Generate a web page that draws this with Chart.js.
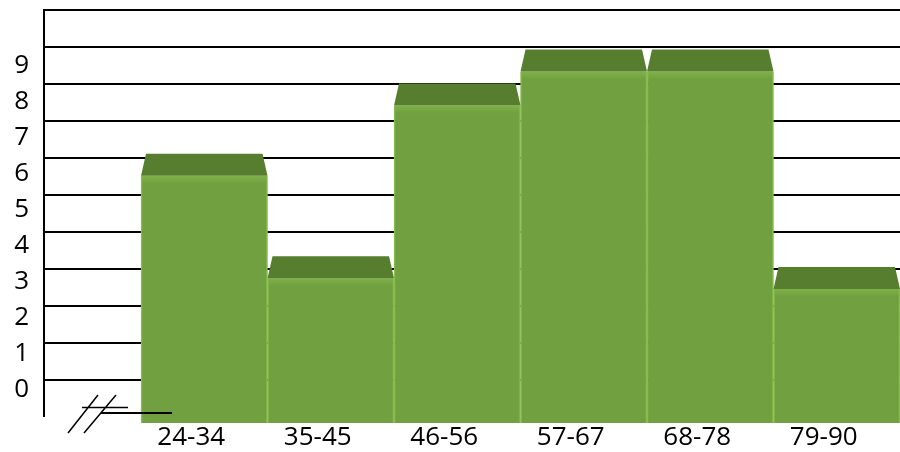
<!DOCTYPE html>
<html>
<head>
<meta charset="utf-8">
<script src="https://cdn.jsdelivr.net/npm/chart.js@4/dist/chart.umd.min.js"></script>
<style>
  html, body { margin: 0; padding: 0; background: #ffffff; }
  #wrap { width: 900px; height: 452px; }
</style>
</head>
<body>
<div id="wrap"><canvas id="chart" width="900" height="452"></canvas></div>
<script>
// Age groups and how many people fall in each one
const ageGroups = ['24-34', '35-45', '46-56', '57-67', '68-78', '79-90'];
const counts = [5.95, 3.1, 7.9, 8.85, 8.85, 2.8];
const groupPositions = [0, 1, 2, 3, 4, 5];

// Count labels printed on the left, and the horizontal rule lines
const countTicks = [0, 1, 2, 3, 4, 5, 6, 7, 8, 9];
const ruleTicks = [0, 1, 2, 3, 4, 5, 6, 7, 8, 9, 10];

const FACE = '#70a03f';
const TOP = '#577d2f';
const EDGE = '#86bd4c';

// Darker slanted cap on top of every bar
const bevelTops = {
  id: 'bevelTops',
  afterDatasetsDraw(chart) {
    const ctx = chart.ctx;
    const meta = chart.getDatasetMeta(0);
    const h = 22, inset = 5;
    ctx.save();
    meta.data.forEach(bar => {
      const p = bar.getProps(['x', 'y', 'width'], true);
      const l = p.x - p.width / 2, r = p.x + p.width / 2;
      // soft light band just under the cap
      const g = ctx.createLinearGradient(0, p.y, 0, p.y + 8);
      g.addColorStop(0, 'rgba(140,190,80,0.55)');
      g.addColorStop(1, 'rgba(140,190,80,0)');
      ctx.fillStyle = g;
      ctx.fillRect(l + 1, p.y, p.width - 2, 8);
      ctx.beginPath();
      ctx.moveTo(l, p.y);
      ctx.lineTo(r, p.y);
      ctx.lineTo(r - inset, p.y - h);
      ctx.lineTo(l + inset, p.y - h);
      ctx.closePath();
      ctx.fillStyle = TOP;
      ctx.fill();
    });
    ctx.restore();
  }
};

// Vertical axis line and the "//" axis-break mark at its foot
const axisBreak = {
  id: 'axisBreak',
  afterDraw(chart) {
    const ctx = chart.ctx;
    const area = chart.chartArea;
    const L = area.left;
    const B = chart.scales.rules.getPixelForValue(-1);
    ctx.save();
    ctx.strokeStyle = '#000000';
    ctx.lineCap = 'butt';
    ctx.lineWidth = 2;
    ctx.beginPath();
    ctx.moveTo(L, area.top - 1);
    ctx.lineTo(L, B);
    ctx.stroke();

    ctx.lineWidth = 1.5;
    ctx.beginPath();
    ctx.moveTo(L + 24, B + 16); ctx.lineTo(L + 54, B - 22);
    ctx.moveTo(L + 40, B + 16); ctx.lineTo(L + 72, B - 22);
    ctx.moveTo(L + 38, B - 9.5); ctx.lineTo(L + 84, B - 9.5);
    ctx.stroke();
    ctx.lineWidth = 2;
    ctx.beginPath();
    ctx.moveTo(L + 57, B - 4); ctx.lineTo(L + 128, B - 4);
    ctx.stroke();
    ctx.restore();
  }
};

const noEdgePadding = axis => {
  axis.paddingTop = 0; axis.paddingBottom = 0;
  axis.paddingLeft = 0; axis.paddingRight = 0;
};

new Chart(document.getElementById('chart'), {
  type: 'bar',
  data: {
    datasets: [{
      data: groupPositions.map((x, i) => ({ x: x, y: counts[i] })),
      backgroundColor: FACE,
      borderColor: EDGE,
      borderWidth: { left: 1.5, right: 1.5, top: 0, bottom: 0 },
      borderSkipped: false,
      base: -0.96,
      barPercentage: 1,
      categoryPercentage: 1,
      yAxisID: 'y',
      xAxisID: 'x'
    }]
  },
  options: {
    responsive: false,
    animation: false,
    devicePixelRatio: 1,
    layout: { padding: { top: 10, right: 0, left: 0, bottom: 0 } },
    plugins: { legend: { display: false }, tooltip: { enabled: false } },
    scales: {
      x: {
        type: 'linear',
        offset: false,
        min: -1.267,
        max: 5.5,
        grid: { display: false, drawTicks: false, offset: false },
        border: { display: false },
        afterBuildTicks: axis => { axis.ticks = groupPositions.map(v => ({ value: v })); },
        afterFit: axis => { axis.height = 29; noEdgePadding(axis); },
        ticks: {
          autoSkip: false,
          maxRotation: 0,
          padding: -1,
          labelOffset: -13,
          color: '#000000',
          font: { family: '"Open Sans", "Noto Sans", sans-serif', size: 26 },
          callback: v => ageGroups[v]
        }
      },
      rules: {
        type: 'linear',
        position: 'left',
        min: -1.162,
        max: 10,
        afterBuildTicks: axis => { axis.ticks = ruleTicks.map(v => ({ value: v })); },
        afterFit: axis => { axis.width = 0; noEdgePadding(axis); },
        grid: { color: '#000000', lineWidth: 2, drawTicks: false },
        border: { display: false },
        ticks: { display: false }
      },
      y: {
        type: 'linear',
        position: 'left',
        min: -0.93,
        max: 10.56,
        afterBuildTicks: axis => { axis.ticks = countTicks.map(v => ({ value: v })); },
        afterFit: axis => { axis.width = 44; noEdgePadding(axis); },
        grid: { display: false, drawTicks: false },
        border: { display: false },
        ticks: {
          padding: 15,
          color: '#000000',
          font: { family: '"Open Sans", "Noto Sans", sans-serif', size: 26 }
        }
      }
    }
  },
  plugins: [bevelTops, axisBreak]
});
</script>
</body>
</html>
